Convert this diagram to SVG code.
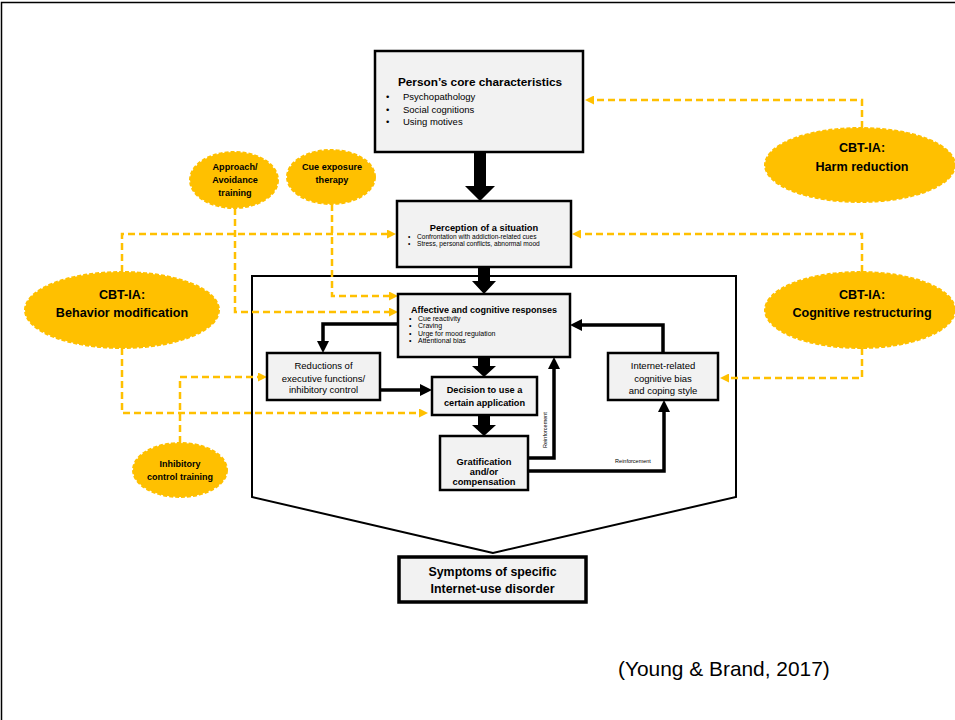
<svg xmlns="http://www.w3.org/2000/svg" width="955" height="720" viewBox="0 0 955 720">
  <defs>
    <style>
      .box { fill: #F2F2F2; stroke: #000; stroke-width: 2.5; }
      .t { font-family: "Liberation Sans", Arial, sans-serif; fill: #000; }
      .b { font-weight: bold; }
      .mid { text-anchor: middle; }
      .oval { fill: #FFC000; stroke: #FFC000; stroke-width: 2; stroke-dasharray: 4 2; }
      .dash { fill: none; stroke: #FFC000; stroke-width: 2.5; stroke-dasharray: 7 4; }
      .flow { fill: none; stroke: #000; stroke-width: 3.5; }
      .fat { fill: #000; }
    </style>
    <marker id="ya" viewBox="0 0 9 9" refX="0" refY="4.5" markerWidth="9" markerHeight="9" markerUnits="userSpaceOnUse" orient="auto">
      <path d="M0,0 L9,4.5 L0,9 z" fill="#FFC000"/>
    </marker>
    <marker id="ka" viewBox="0 0 12 12" refX="0" refY="6" markerWidth="12" markerHeight="12" markerUnits="userSpaceOnUse" orient="auto">
      <path d="M0,0 L12,6 L0,12 z" fill="#000"/>
    </marker>
  </defs>

  <rect x="0" y="0" width="955" height="720" fill="#fff"/>
  <rect x="1.5" y="2.5" width="962" height="730" fill="none" stroke="#000" stroke-width="1.5"/>

  <!-- outline enclosing the inner process -->
  <path d="M493,553 L252,497 V276 H736 V497 Z" fill="none" stroke="#000" stroke-width="2"/>

  <!-- connectors -->
  <g id="connectors">
    <!-- thick downward flow -->
    <polygon class="fat" points="474,152 486,152 486,186 495,186 480,201 465,186 474,186"/>
    <polygon class="fat" points="478,267 490,267 490,281 496,281 484,294 472,281 478,281"/>
    <polygon class="fat" points="478,357 490,357 490,366 496,366 484,377 472,366 478,366"/>
    <polygon class="fat" points="478,415 490,415 490,425 496,425 484,436 472,425 478,425"/>

    <!-- solid black links -->
    <path class="flow" d="M380,390 H420" marker-end="url(#ka)"/>
    <path class="flow" d="M398,324 H323 V341" marker-end="url(#ka)"/>
    <path class="flow" d="M663,353 V325 H582" marker-end="url(#ka)"/>
    <path class="flow" d="M528,458 H554 V369" marker-end="url(#ka)"/>
    <path class="flow" d="M528,471 H664 V412" marker-end="url(#ka)"/>
    <text class="t" font-size="5.5" text-anchor="middle" transform="translate(547,430) rotate(-90)">Reinforcement</text>
    <text class="t" font-size="5.5" x="633" y="463" text-anchor="middle">Reinforcement</text>

    <!-- dashed therapy links -->
    <path class="dash" d="M862,128 V100 H594" marker-end="url(#ya)"/>
    <path class="dash" d="M122,272 V234 H387" marker-end="url(#ya)"/>
    <path class="dash" d="M122,348 V413 H419" marker-end="url(#ya)"/>
    <path class="dash" d="M862,272 V234 H581" marker-end="url(#ya)"/>
    <path class="dash" d="M862,348 V378 H729" marker-end="url(#ya)"/>
    <path class="dash" d="M235,208 V312 H389" marker-end="url(#ya)"/>
    <path class="dash" d="M332,204 V296 H389" marker-end="url(#ya)"/>
    <path class="dash" d="M180,443 V377 H258" marker-end="url(#ya)"/>
  </g>

  <!-- process boxes -->
  <g id="core">
    <rect class="box" x="375" y="51" width="208" height="101"/>
    <text class="t b mid" x="480" y="86" font-size="11.8">Person’s core characteristics</text>
    <g class="t" font-size="9.5">
      <text x="386" y="100">•</text><text x="403" y="100">Psychopathology</text>
      <text x="386" y="113">•</text><text x="403" y="113">Social cognitions</text>
      <text x="386" y="125">•</text><text x="403" y="125">Using motives</text>
    </g>
  </g>

  <g id="perception">
    <rect class="box" x="397" y="201" width="174" height="66"/>
    <text class="t b mid" x="484" y="231" font-size="9.3">Perception of a situation</text>
    <g class="t" font-size="6.6">
      <text x="408" y="239">•</text><text x="417" y="239">Confrontation with addiction-related cues</text>
      <text x="408" y="245.5">•</text><text x="417" y="245.5">Stress, personal conflicts, abnormal mood</text>
    </g>
  </g>

  <g id="responses">
    <rect class="box" x="398" y="294" width="172" height="63"/>
    <text class="t b mid" x="484" y="312.5" font-size="9">Affective and cognitive responses</text>
    <g class="t" font-size="7">
      <text x="409" y="320.5">•</text><text x="418" y="320.5">Cue reactivity</text>
      <text x="409" y="328">•</text><text x="418" y="328">Craving</text>
      <text x="409" y="335.5">•</text><text x="418" y="335.5">Urge for mood regulation</text>
      <text x="409" y="343">•</text><text x="418" y="343">Attentional bias</text>
    </g>
  </g>

  <g id="reductions">
    <rect class="box" x="267" y="353" width="113" height="47"/>
    <g class="t mid" font-size="9.5">
      <text x="323.5" y="368.5">Reductions of</text>
      <text x="323.5" y="381.5">executive functions/</text>
      <text x="323.5" y="393">inhibitory control</text>
    </g>
  </g>

  <g id="decision">
    <rect class="box" x="432" y="377" width="105" height="38"/>
    <g class="t b mid" font-size="9.2">
      <text x="484.5" y="392.5">Decision to use a</text>
      <text x="484.5" y="405.5">certain application</text>
    </g>
  </g>

  <g id="gratification">
    <rect class="box" x="440" y="436" width="88" height="54"/>
    <g class="t b mid" font-size="9.3">
      <text x="484" y="465">Gratification</text>
      <text x="484" y="475">and/or</text>
      <text x="484" y="485">compensation</text>
    </g>
  </g>

  <g id="bias">
    <rect class="box" x="608" y="353" width="110" height="47"/>
    <g class="t mid" font-size="9.5">
      <text x="663" y="368.5">Internet-related</text>
      <text x="663" y="381.5">cognitive bias</text>
      <text x="663" y="394">and coping style</text>
    </g>
  </g>

  <g id="symptoms">
    <rect x="399" y="557" width="187" height="45" fill="#F2F2F2" stroke="#000" stroke-width="3.5"/>
    <g class="t b mid" font-size="12.4">
      <text x="492.5" y="576">Symptoms of specific</text>
      <text x="492.5" y="593">Internet-use disorder</text>
    </g>
  </g>

  <!-- therapy ovals -->
  <g id="approach">
    <ellipse class="oval" cx="234" cy="180" rx="44" ry="28"/>
    <g class="t b mid" font-size="9.1">
      <text x="235" y="170">Approach/</text>
      <text x="235" y="183">Avoidance</text>
      <text x="235" y="196">training</text>
    </g>
  </g>

  <g id="cue-exposure">
    <ellipse class="oval" cx="331" cy="177" rx="44" ry="27"/>
    <g class="t b mid" font-size="9.1">
      <text x="332" y="170">Cue exposure</text>
      <text x="332" y="183">therapy</text>
    </g>
  </g>

  <g id="behavior">
    <ellipse class="oval" cx="122" cy="310" rx="97" ry="38"/>
    <g class="t b mid" font-size="12.6">
      <text x="122" y="299">CBT-IA:</text>
      <text x="122" y="317">Behavior modification</text>
    </g>
  </g>

  <g id="harm">
    <ellipse class="oval" cx="860" cy="165" rx="95" ry="37"/>
    <g class="t b mid" font-size="12.6">
      <text x="862" y="152">CBT-IA:</text>
      <text x="862" y="171">Harm reduction</text>
    </g>
  </g>

  <g id="restructuring">
    <ellipse class="oval" cx="860" cy="310" rx="95" ry="38"/>
    <g class="t b mid" font-size="12.6">
      <text x="862" y="299">CBT-IA:</text>
      <text x="862" y="317">Cognitive restructuring</text>
    </g>
  </g>

  <g id="inhibitory">
    <ellipse class="oval" cx="180" cy="470" rx="47" ry="27"/>
    <g class="t b mid" font-size="9">
      <text x="180" y="466.5">Inhibitory</text>
      <text x="180" y="479.5">control training</text>
    </g>
  </g>

  <text class="t" x="618" y="676" font-size="20.9">(Young &amp; Brand, 2017)</text>
</svg>
